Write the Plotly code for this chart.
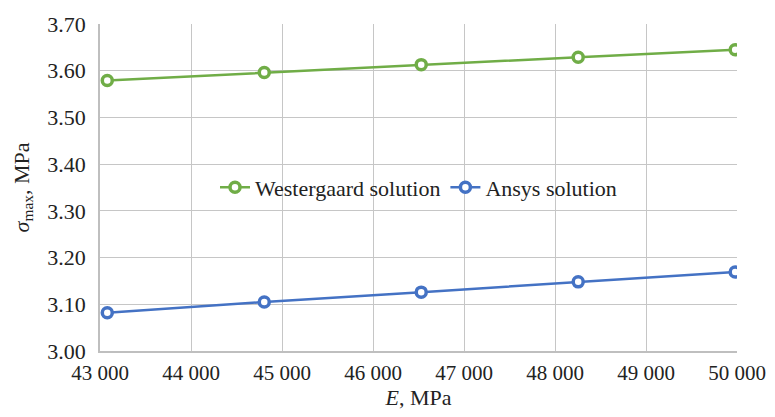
import plotly.graph_objects as go

E_mpa = [43080, 44805, 46530, 48255, 49980]
westergaard = [3.579, 3.596, 3.613, 3.629, 3.645]
ansys = [3.082, 3.105, 3.126, 3.148, 3.169]

font_family = "Liberation Serif"
grid = "#c6c6c6"

fig = go.Figure()
fig.add_trace(go.Scatter(
    x=E_mpa, y=westergaard, mode="lines+markers", name="Westergaard solution",
    line=dict(color="#70ad47", width=2.5),
    marker=dict(symbol="circle", size=10, color="white", line=dict(color="#70ad47", width=3.5)),
))
fig.add_trace(go.Scatter(
    x=E_mpa, y=ansys, mode="lines+markers", name="Ansys solution",
    line=dict(color="#4472c4", width=2.5),
    marker=dict(symbol="circle", size=10, color="white", line=dict(color="#4472c4", width=3.5)),
))

# page body has an 8px default margin, so the figure is sized to fit the window
fig.update_layout(
    width=767, height=409,
    margin=dict(l=92, r=38, t=16, b=66),
    paper_bgcolor="white", plot_bgcolor="white",
    font=dict(family=font_family, size=22, color="#222222"),
    separators=". ",
    showlegend=True,
    legend=dict(orientation="h", x=0.5, xanchor="center", y=0.5, yanchor="middle",
                bgcolor="rgba(0,0,0,0)", font=dict(family=font_family, size=22), itemwidth=30,
                tracegroupgap=0),
    xaxis=dict(range=[43000, 50000], dtick=1000, tickformat=",d",
               showgrid=True, gridcolor=grid, gridwidth=1,
               showline=True, linecolor="#bfbfbf", linewidth=1.5,
               zeroline=False, ticks="", ticklen=0, ticklabelstandoff=2,
               tickfont=dict(size=21), automargin=False,
               title=dict(text="<i>E</i>, MPa", standoff=2, font=dict(size=22))),
    yaxis=dict(range=[3.0, 3.7], dtick=0.1, tickformat=".2f",
               showgrid=True, gridcolor=grid, gridwidth=1,
               showline=True, linecolor="#bfbfbf", linewidth=1.5,
               zeroline=False, ticks="", ticklabelstandoff=8,
               automargin=False,
               title=dict(text="<i>σ</i><sub>max</sub>, MPa", standoff=12, font=dict(size=22))),
)

fig.write_html("out.html")
